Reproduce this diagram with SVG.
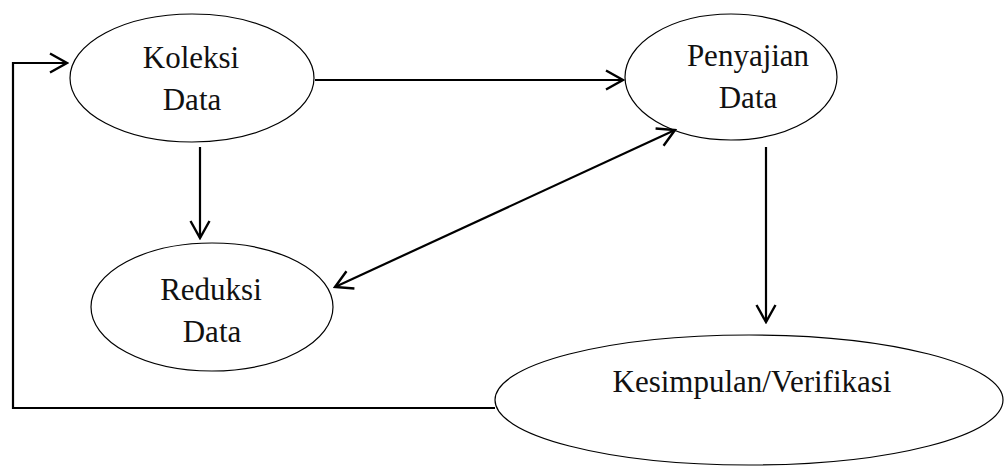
<svg xmlns="http://www.w3.org/2000/svg" width="1004" height="466" viewBox="0 0 1004 466">
<style>
.node ellipse{fill:#fff;stroke:#000;stroke-width:1.2}
.node text{font-family:"Liberation Serif","Times New Roman",serif;font-size:31px;fill:#111;text-anchor:middle}
.conn{fill:none;stroke:#000;stroke-width:2.2}
</style>
<defs>
<marker id="arr" viewBox="-19 -11 21 22" refX="0" refY="0" markerWidth="21" markerHeight="22" markerUnits="userSpaceOnUse" orient="auto-start-reverse">
<path d="M-17,-9.5 L0,0 L-17,9.5" fill="none" stroke="#000" stroke-width="2.4"/>
</marker>
</defs>
<rect width="1004" height="466" fill="#fff"/>
<g id="koleksi" class="node">
<ellipse cx="192" cy="78" rx="122" ry="64"/>
<text x="191" y="68">Koleksi</text>
<text x="192" y="110">Data</text>
</g>
<g id="penyajian" class="node">
<ellipse cx="731" cy="77" rx="106" ry="63"/>
<text x="748" y="66">Penyajian</text>
<text x="748" y="108">Data</text>
</g>
<g id="reduksi" class="node">
<ellipse cx="212" cy="307" rx="121" ry="64"/>
<text x="211" y="300">Reduksi</text>
<text x="212" y="342">Data</text>
</g>
<g id="kesimpulan" class="node">
<ellipse cx="749" cy="400" rx="254" ry="65"/>
<text x="752" y="392">Kesimpulan/Verifikasi</text>
</g>
<g id="connectors">
<path class="conn" d="M495,408 H13 V63 H67" marker-end="url(#arr)"/>
<path class="conn" d="M315,80 H623" marker-end="url(#arr)"/>
<path class="conn" d="M200,147 V238" marker-end="url(#arr)"/>
<path class="conn" d="M766,147 V322" marker-end="url(#arr)"/>
<path class="conn" d="M335,287 L675,130" marker-start="url(#arr)" marker-end="url(#arr)"/>
</g>
</svg>
